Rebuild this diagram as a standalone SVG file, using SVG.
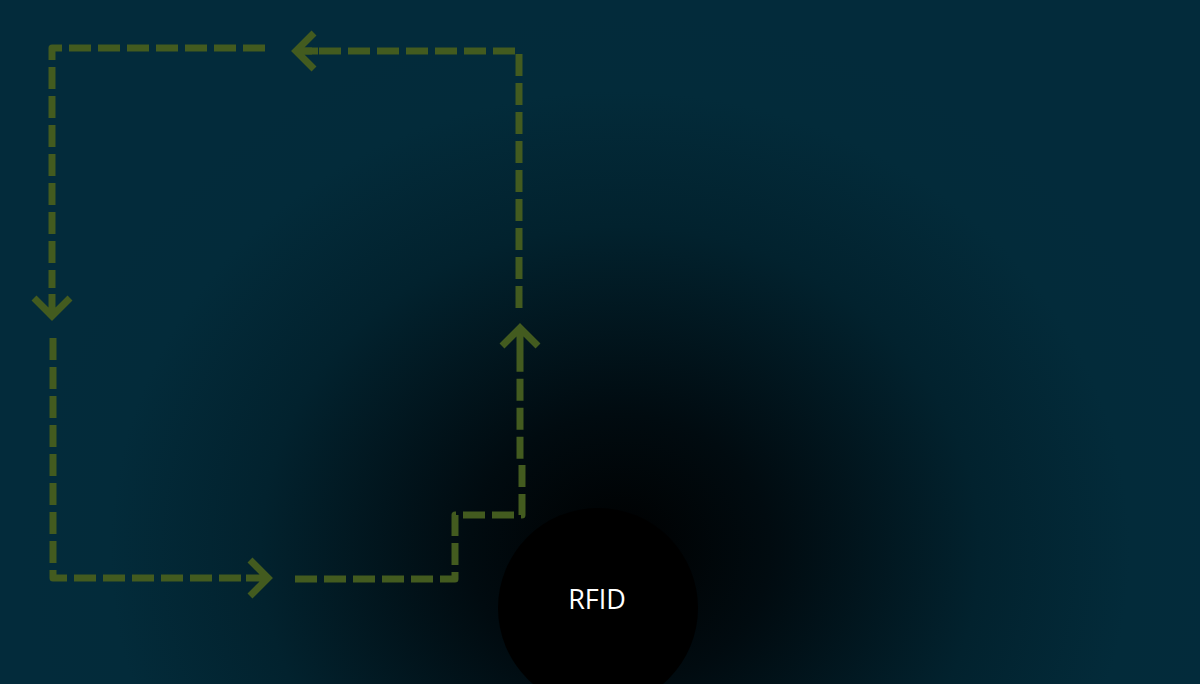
<svg xmlns="http://www.w3.org/2000/svg" width="1200" height="684" viewBox="0 0 1200 684">
<defs>
<radialGradient id="bg" gradientUnits="userSpaceOnUse" cx="620" cy="550" r="600" gradientTransform="translate(620 550) scale(1 0.9) translate(-620 -550)">
<stop offset="0" stop-color="#000000"/>
<stop offset="0.25" stop-color="#010b10"/>
<stop offset="0.6" stop-color="#02222e"/>
<stop offset="0.85" stop-color="#032b3a"/>
<stop offset="1" stop-color="#032b3b"/>
</radialGradient>
<style>
.dash{fill:none;stroke:#435b1f;stroke-width:7;stroke-dasharray:22 7;stroke-linecap:butt;stroke-linejoin:round}
.head{fill:none;stroke:#435b1f;stroke-width:7;stroke-linecap:butt;stroke-linejoin:miter}
.lbl{font-family:"Open Sans","Noto Sans",sans-serif;font-size:27px;fill:#ffffff;text-anchor:middle}
</style>
</defs>
<rect width="1200" height="684" fill="url(#bg)"/>
<g id="connectors">
<path class="dash" d="M265,48 L52,48 L52,288"/>
<path class="head" d="M52,294 L52,316 M34,298 L52,316 L70,298"/>
<path class="dash" d="M519,308 L519,51 L296,51"/>
<path class="head" d="M296,51 L318,51 M314,33 L296,51 L314,69"/>
<path class="dash" d="M53,338 L53,578 L246,578"/>
<path class="head" d="M246,578 L268,578 M250,560 L268,578 L250,596"/>
<path class="dash" d="M295,579 L455,579 L455,515 L522,515 L522,463 L520,461 L520,352"/>
<path class="head" d="M520,352 L520,328 M502,346 L520,328 L538,346"/>
</g>
<g id="rfid">
<circle cx="598" cy="608" r="100" fill="#000000"/>
<text class="lbl" x="597" y="609">RFID</text>
</g>
</svg>
